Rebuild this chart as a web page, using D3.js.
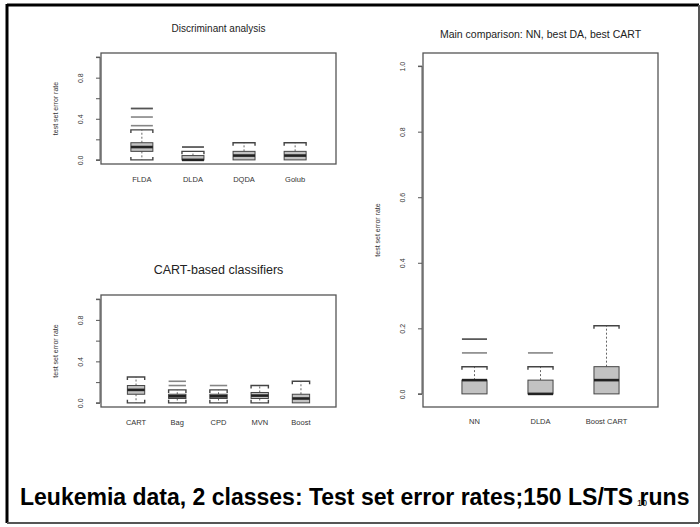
<!DOCTYPE html>
<html>
<head>
<meta charset="utf-8">
<script src="https://cdn.jsdelivr.net/npm/d3@7"></script>
<style>
  html, body { margin: 0; padding: 0; background: #fff; }
  svg { display: block; font-family: "Liberation Sans", Arial, Helvetica, sans-serif; }
</style>
</head>
<body>
<svg id="chart" width="700" height="527"></svg>
<script>
// Test set error rates over 150 learning/test set runs, summarised as
// [lower whisker, Q1, median, Q3, upper whisker]; outliers listed per run.
const daCategories = ["FLDA", "DLDA", "DQDA", "Golub"];
const daStats = [
  [0.000, 0.083, 0.125, 0.167, 0.292],
  [0.000, 0.000, 0.000, 0.042, 0.083],
  [0.000, 0.000, 0.042, 0.083, 0.167],
  [0.000, 0.000, 0.042, 0.083, 0.167]
];
const daOutliers = [
  [0.333, 0.417, 0.500, 0.500],
  [0.125, 0.125],
  [],
  []
];

const cartCategories = ["CART", "Bag", "CPD", "MVN", "Boost"];
const cartStats = [
  [0.000, 0.083, 0.125, 0.167, 0.250],
  [0.000, 0.042, 0.063, 0.083, 0.125],
  [0.000, 0.042, 0.063, 0.083, 0.125],
  [0.000, 0.042, 0.070, 0.100, 0.167],
  [0.000, 0.000, 0.042, 0.083, 0.208]
];
const cartOutliers = [
  [],
  [0.167, 0.208],
  [0.167],
  [],
  []
];

const mainCategories = ["NN", "DLDA", "Boost CART"];
const mainStats = [
  [0.000, 0.000, 0.042, 0.042, 0.083],
  [0.000, 0.000, 0.000, 0.042, 0.083],
  [0.000, 0.000, 0.042, 0.083, 0.208]
];
const mainOutliers = [
  [0.125, 0.167, 0.167],
  [0.125],
  []
];

const smallTicks = [0, 0.2, 0.4, 0.6, 0.8, 1.0];
const smallTickLabels = ["0.0", "", "0.4", "", "0.8", ""];
const mainTicks = [0, 0.2, 0.4, 0.6, 0.8, 1.0];
const mainTickLabels = ["0.0", "0.2", "0.4", "0.6", "0.8", "1.0"];

const yAxisTitle = "test set error rate";
const caption = "Leukemia data, 2 classes: Test set error rates;150 LS/TS runs";
const pageNumber = "10";

const svg = d3.select("#chart");

// Slide frame
svg.append("line").attr("x1", 7).attr("y1", 5).attr("x2", 699).attr("y2", 5)
  .attr("stroke", "#000").attr("stroke-width", 3);
svg.append("line").attr("x1", 7).attr("y1", 4).attr("x2", 7).attr("y2", 523)
  .attr("stroke", "#000").attr("stroke-width", 3);
svg.append("line").attr("x1", 7).attr("y1", 523).attr("x2", 699).attr("y2", 523)
  .attr("stroke", "#555").attr("stroke-width", 2);
svg.append("line").attr("x1", 699).attr("y1", 5).attr("x2", 699).attr("y2", 523)
  .attr("stroke", "#555").attr("stroke-width", 2);

function boxPanel(opt) {
  const { left, right, top, bottom } = opt.frame;
  const g = svg.append("g");

  const y = d3.scaleLinear().domain([-0.04, 1.04]).range([bottom, top]);
  const x = d3.scalePoint().domain(opt.categories).range([left, right]).padding(opt.padding);
  const bw = x.step() * opt.boxFrac;

  // title
  g.append("text")
    .attr("x", (left + right) / 2).attr("y", opt.titleY)
    .attr("text-anchor", "middle").attr("dominant-baseline", "central")
    .attr("font-size", opt.titleSize).attr("fill", "#222")
    .text(opt.title);

  // plot frame
  g.append("rect")
    .attr("x", left).attr("y", top)
    .attr("width", right - left).attr("height", bottom - top)
    .attr("fill", "none").attr("stroke", "#555").attr("stroke-width", 1.3);

  // y axis
  const axis = d3.axisLeft(y).tickValues(opt.ticks).tickSize(4)
    .tickFormat((d, i) => opt.tickLabels[i]);
  const ag = g.append("g").attr("transform", `translate(${left - 1},0)`).call(axis);
  ag.select(".domain").attr("stroke", "#555").attr("d", `M-4,${y(1)}H0V${y(0)}H-4`);
  ag.selectAll(".tick line").attr("stroke", "#555");
  ag.selectAll(".tick text")
    .attr("font-size", 7).attr("fill", "#333")
    .attr("text-anchor", "middle").attr("dominant-baseline", "central")
    .attr("x", 0).attr("dy", null)
    .attr("transform", () => "translate(-20,0) rotate(-90)");
  ag.attr("font-family", null);

  // y axis title
  g.append("text")
    .attr("transform", `translate(${left - 46},${(top + bottom) / 2}) rotate(-90)`)
    .attr("text-anchor", "middle").attr("dominant-baseline", "central")
    .attr("font-size", 7).attr("fill", "#333")
    .text(yAxisTitle);

  // category labels
  g.selectAll(".xlab").data(opt.categories).join("text")
    .attr("class", "xlab")
    .attr("x", d => x(d)).attr("y", bottom + opt.xLabelGap)
    .attr("text-anchor", "middle").attr("dominant-baseline", "central")
    .attr("font-size", 7.5).attr("fill", "#333")
    .text(d => d);

  opt.stats.forEach((s, i) => {
    const cx = x(opt.categories[i]);
    const [lo, q1, med, q3, hi] = s;
    const bg = g.append("g");

    // whiskers
    if (hi > q3) {
      bg.append("line").attr("x1", cx).attr("x2", cx).attr("y1", y(q3)).attr("y2", y(hi))
        .attr("stroke", "#666").attr("stroke-dasharray", "2,2").attr("stroke-width", 1);
    }
    if (lo < q1) {
      bg.append("line").attr("x1", cx).attr("x2", cx).attr("y1", y(q1)).attr("y2", y(lo))
        .attr("stroke", "#666").attr("stroke-dasharray", "2,2").attr("stroke-width", 1);
    }
    // staples, with short ends turned toward the box
    [[hi, q3, 1], [lo, q1, -1]].forEach(([v, q, dir]) => {
      if (v === q) return;
      const yy = y(v);
      bg.append("path")
        .attr("d", `M${cx - bw / 2},${yy + dir * 3}V${yy}H${cx + bw / 2}V${yy + dir * 3}`)
        .attr("fill", "none").attr("stroke", "#444").attr("stroke-width", 1.4);
    });
    // box
    bg.append("rect")
      .attr("x", cx - bw / 2).attr("width", bw)
      .attr("y", y(q3)).attr("height", Math.max(0.5, y(q1) - y(q3)))
      .attr("fill", "#c2c2c2").attr("stroke", "#444").attr("stroke-width", 1);
    // median
    bg.append("line")
      .attr("x1", cx - bw / 2).attr("x2", cx + bw / 2)
      .attr("y1", y(med)).attr("y2", y(med))
      .attr("stroke", "#222").attr("stroke-width", 2.6);
    // outliers, drawn as dashes; repeated values build up darker marks
    bg.selectAll(".out").data(opt.outliers[i]).join("line")
      .attr("class", "out")
      .attr("x1", cx - bw / 2).attr("x2", cx + bw / 2)
      .attr("y1", d => y(d)).attr("y2", d => y(d))
      .attr("stroke", "#333").attr("stroke-width", 1.6).attr("stroke-opacity", 0.6);
  });
}

boxPanel({
  frame: { left: 101, right: 336, top: 53, bottom: 164 },
  categories: daCategories, stats: daStats, outliers: daOutliers,
  ticks: smallTicks, tickLabels: smallTickLabels,
  padding: 0.8, boxFrac: 0.43, xLabelGap: 15,
  title: "Discriminant analysis", titleSize: 10, titleY: 28
});

boxPanel({
  frame: { left: 101, right: 336, top: 295, bottom: 407 },
  categories: cartCategories, stats: cartStats, outliers: cartOutliers,
  ticks: smallTicks, tickLabels: smallTickLabels,
  padding: 0.85, boxFrac: 0.42, xLabelGap: 15,
  title: "CART-based classifiers", titleSize: 12.5, titleY: 270
});

boxPanel({
  frame: { left: 423, right: 658, top: 53, bottom: 407 },
  categories: mainCategories, stats: mainStats, outliers: mainOutliers,
  ticks: mainTicks, tickLabels: mainTickLabels,
  padding: 0.78, boxFrac: 0.38, xLabelGap: 14,
  title: "Main comparison: NN, best DA, best CART", titleSize: 10.5, titleY: 34
});

// slide caption
svg.append("text")
  .attr("x", 20).attr("y", 505)
  .attr("font-size", 23).attr("font-weight", "bold").attr("fill", "#000")
  .text(caption);

svg.append("text")
  .attr("x", 637).attr("y", 506)
  .attr("font-size", 9).attr("fill", "#000")
  .text(pageNumber);
</script>
</body>
</html>
